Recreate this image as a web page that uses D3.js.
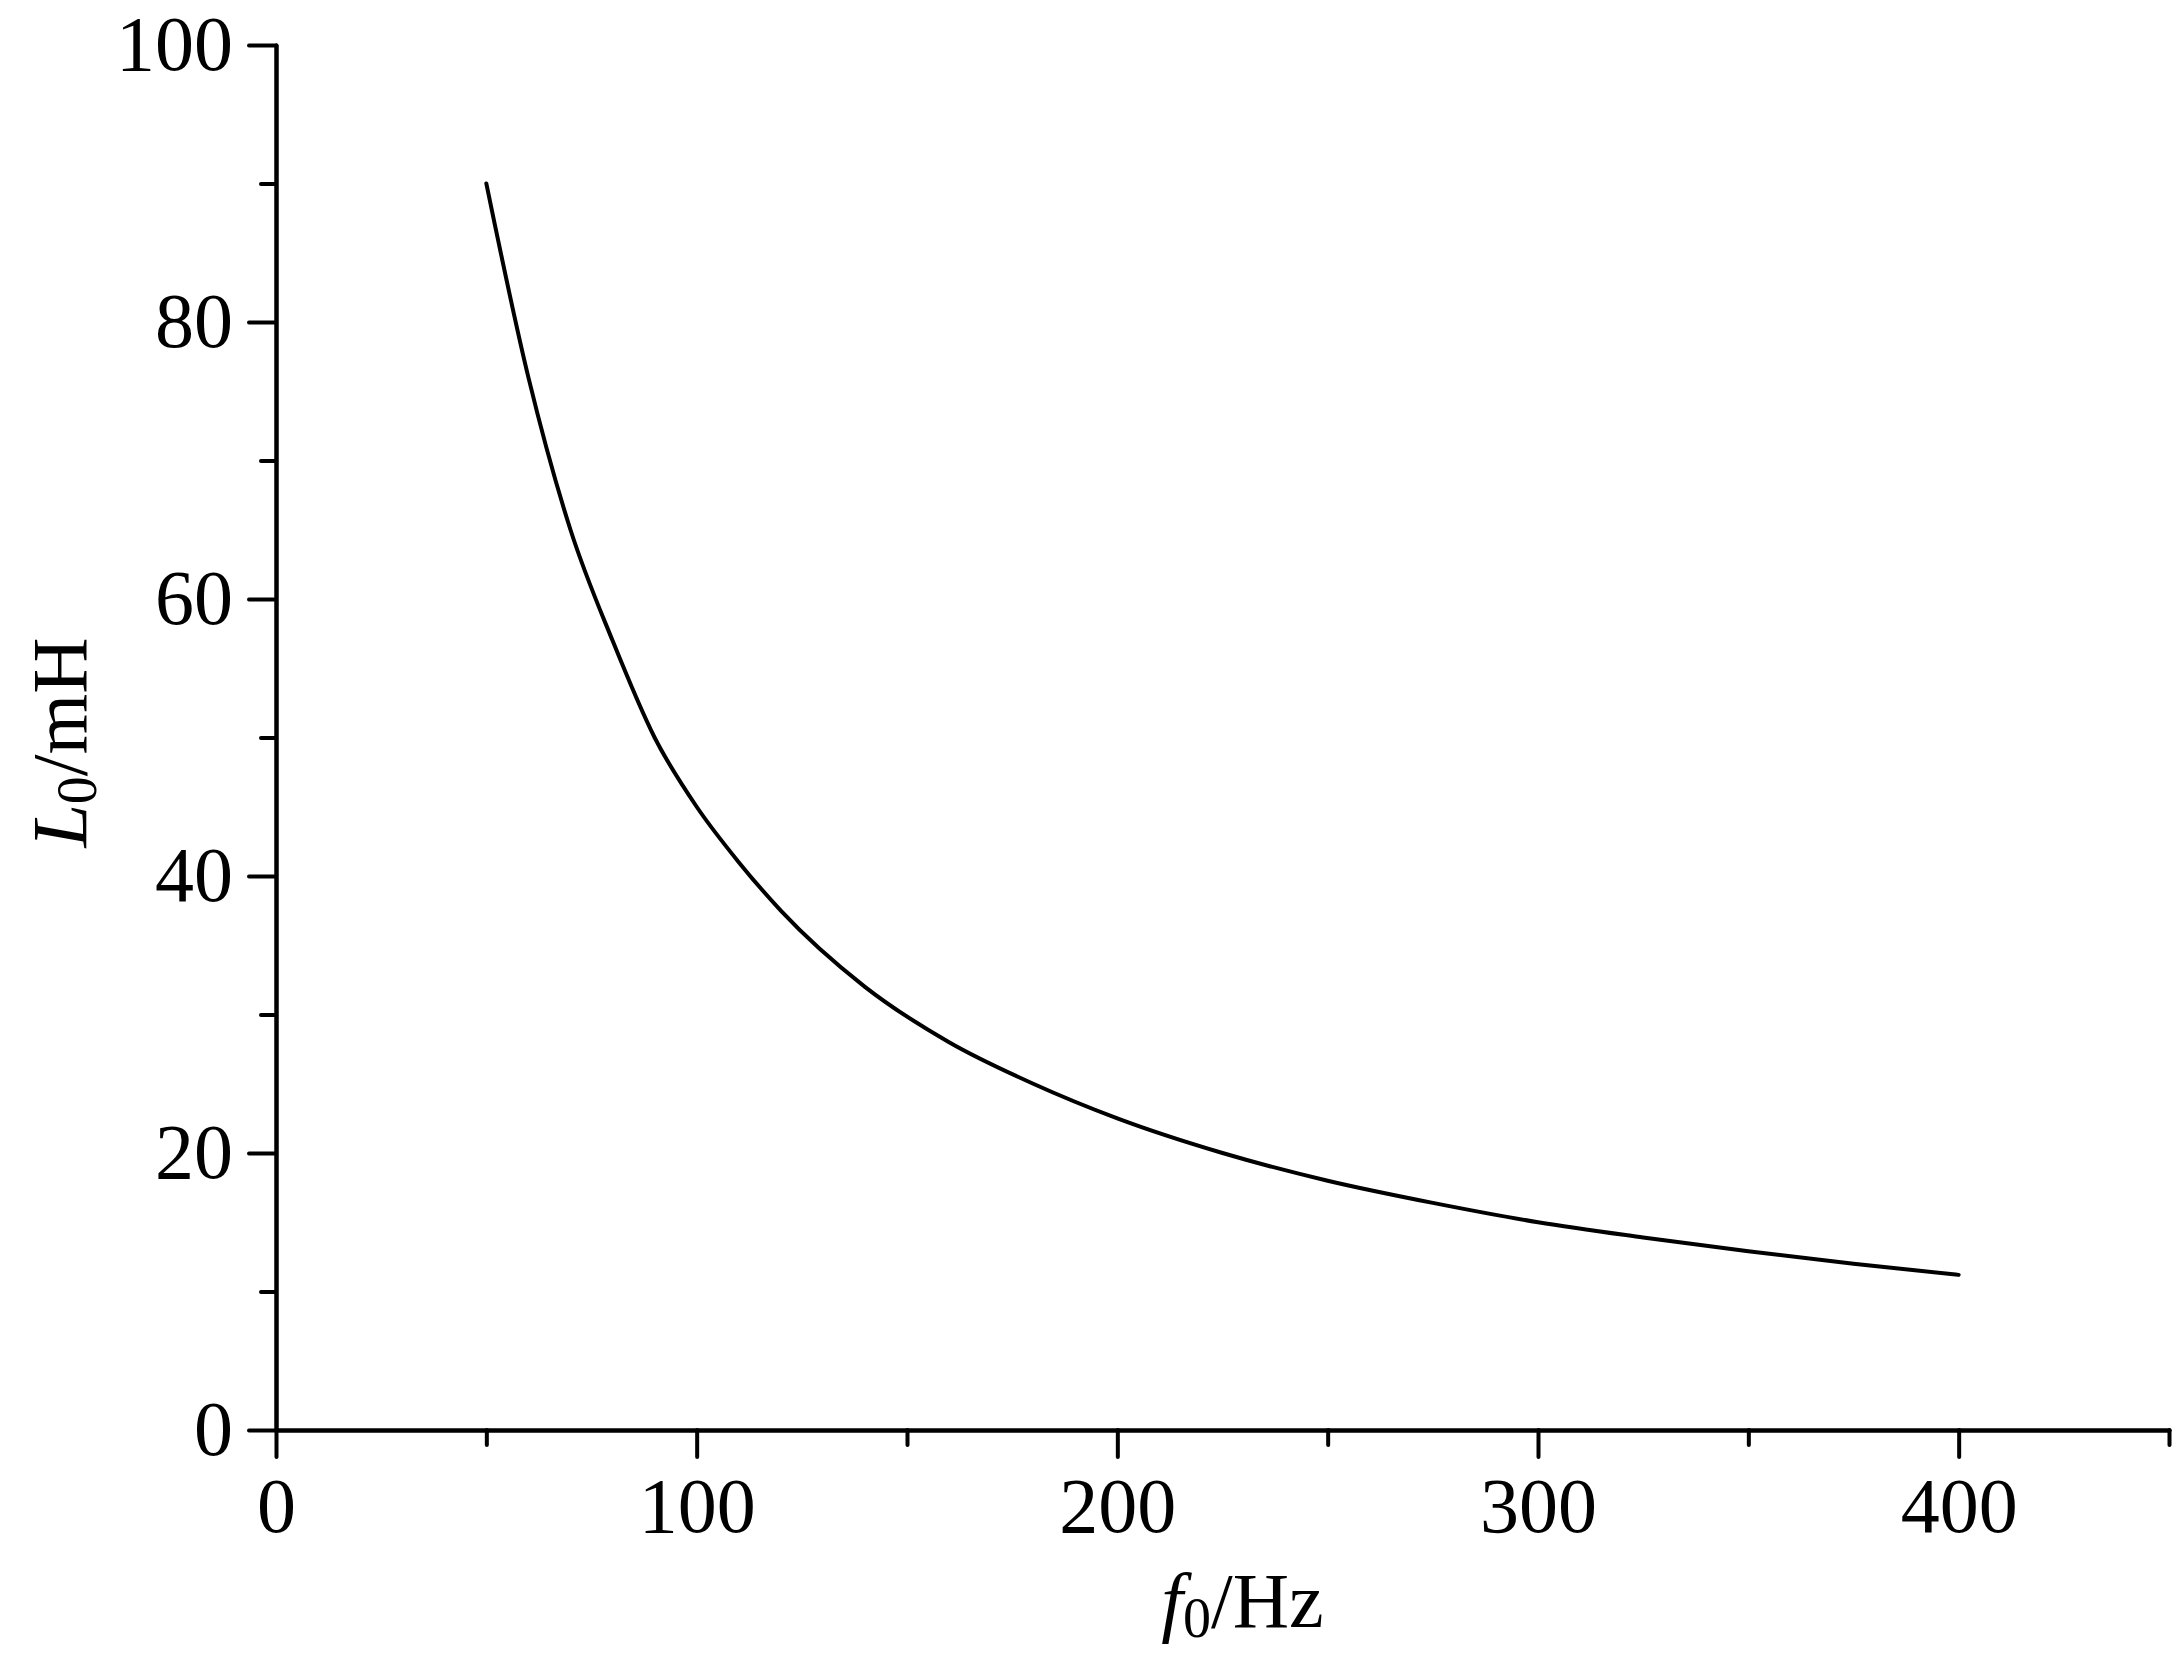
<!DOCTYPE html>
<html>
<head>
<meta charset="utf-8">
<script src="https://cdn.jsdelivr.net/npm/d3@7"></script>
<style>
  body { margin: 0; background: #fff; }
  text { font-family: "Liberation Serif", "Times New Roman", serif; fill: #000; }
</style>
</head>
<body>
<svg id="chart" width="2182" height="1653"></svg>
<script>
// values
const freq = [50, 60, 70, 80, 90, 100, 110, 120, 140, 160, 180, 200, 225, 250, 275, 300, 325, 350, 375, 400];
const induct = [90, 76, 65, 57, 50, 45, 41, 37.5, 32, 28, 25, 22.5, 20, 18, 16.4, 15, 13.9, 12.9, 12, 11.2];
const xMajor = [0, 100, 200, 300, 400];
const xMinor = [50, 150, 250, 350, 450];
const yMajor = [0, 20, 40, 60, 80, 100];
const yMinor = [10, 30, 50, 70, 90];

const svg = d3.select("#chart");
const margin = { left: 276, right: 13, top: 45, bottom: 223 };
const W = 2182, H = 1653;

const x = d3.scaleLinear().domain([0, 450]).range([margin.left, W - margin.right]);
const y = d3.scaleLinear().domain([0, 100]).range([H - margin.bottom, margin.top]);

const stroke = 4;

// X axis
const gx = svg.append("g").attr("transform", "translate(0," + y(0) + ")");
gx.call(d3.axisBottom(x).tickValues(xMajor).tickSize(27).tickPadding(16).tickSizeOuter(0));
gx.append("g").call(d3.axisBottom(x).tickValues(xMinor).tickSize(15).tickFormat("").tickSizeOuter(0));

// Y axis
const gy = svg.append("g").attr("transform", "translate(" + x(0) + ",0)");
gy.call(d3.axisLeft(y).tickValues(yMajor).tickSize(27).tickPadding(16).tickSizeOuter(0));
gy.append("g").call(d3.axisLeft(y).tickValues(yMinor).tickSize(15).tickFormat("").tickSizeOuter(0));

svg.selectAll(".domain, .tick line")
  .attr("stroke", "#000").attr("stroke-width", stroke).attr("stroke-linecap", "round");
svg.selectAll(".tick text").attr("font-size", 78).attr("font-family", "Liberation Serif");
gx.selectAll(".tick text").attr("dy", "0.75em");

// curve
const line = d3.line()
  .x((d, i) => x(freq[i]))
  .y(d => y(d))
  .curve(d3.curveMonotoneX);

svg.append("path")
  .datum(induct)
  .attr("fill", "none")
  .attr("stroke", "#000")
  .attr("stroke-width", stroke)
  .attr("stroke-linecap", "round")
  .attr("d", line);

// axis titles
const xt = svg.append("text")
  .attr("x", (x(0) + x(450)) / 2 + 20)
  .attr("y", 1627)
  .attr("text-anchor", "middle")
  .attr("font-size", 78);
xt.append("tspan").attr("font-style", "italic").text("f");
xt.append("tspan").attr("font-size", 56).attr("dy", 10).text("0");
xt.append("tspan").attr("dy", -10).text("/Hz");

const yt = svg.append("text")
  .attr("transform", "translate(86," + (y(50) + 5) + ") rotate(-90)")
  .attr("text-anchor", "middle")
  .attr("font-size", 78);
yt.append("tspan").attr("font-style", "italic").text("L");
yt.append("tspan").attr("font-size", 56).attr("dy", 10).text("0");
yt.append("tspan").attr("dy", -10).text("/mH");
</script>
</body>
</html>
